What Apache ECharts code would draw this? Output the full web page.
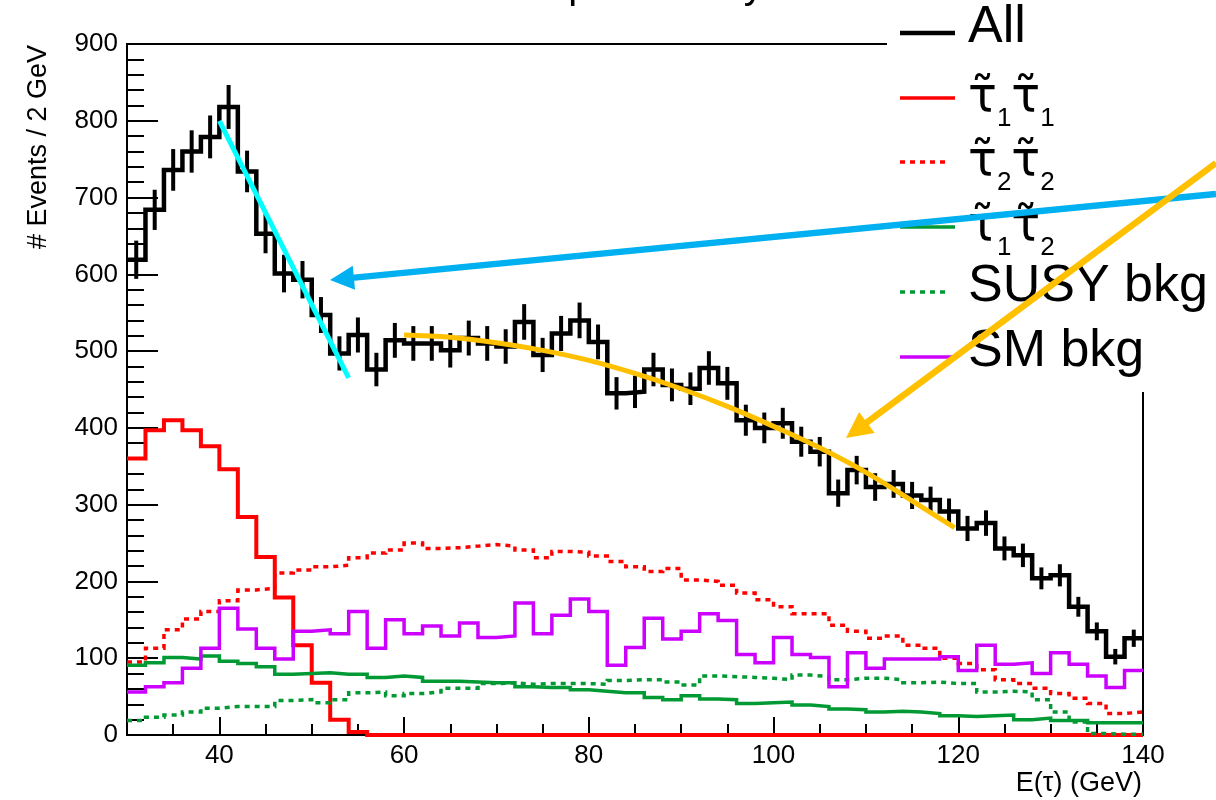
<!DOCTYPE html>
<html>
<head>
<meta charset="utf-8">
<title>E(tau) spectrum</title>
<script src="https://cdn.jsdelivr.net/npm/echarts@6/dist/echarts.min.js"></script>
<style>
  html, body { margin: 0; padding: 0; background: #fff; }
  #chart { width: 1216px; height: 800px; }
</style>
</head>
<body>
<div id="chart"></div>
<script>
// histogram binning: 2 GeV bins from 30 to 140 GeV
const binStart = 30;
const binWidth = 2;
const xTicks = [40, 60, 80, 100, 120, 140];

// events per bin (55 bins)
const allEvents = [619, 684, 736, 760, 779, 818, 734, 653, 601, 593,
  547, 497, 521, 476, 514, 510, 510, 501, 517, 510,
  506, 538, 495, 523, 540, 512, 445, 447, 476, 456,
  451, 478, 458, 410, 400, 406, 382, 369, 315, 345,
  323, 327, 312, 306, 291, 269, 276, 243, 234, 204,
  208, 167, 135, 102, 126];
const stau11 = [360, 397, 410, 397, 376, 346, 284, 232, 179, 117,
  68, 20, 4, 0, 0, 0, 0, 0, 0, 0,
  0, 0, 0, 0, 0, 0, 0, 0, 0, 0,
  0, 0, 0, 0, 0, 0, 0, 0, 0, 0,
  0, 0, 0, 0, 0, 0, 0, 0, 0, 0,
  0, 0, 0, 0, 0];
const stau22 = [95, 113, 137, 151, 161, 175, 189, 191, 211, 215,
  219, 221, 231, 237, 241, 250, 243, 244, 246, 248,
  246, 241, 231, 239, 238, 233, 226, 219, 213, 217,
  202, 200, 195, 185, 176, 167, 158, 158, 143, 135,
  126, 129, 117, 113, 100, 93, 85, 72, 67, 61,
  54, 48, 41, 28, 30];
const stau12 = [91, 94, 101, 99, 103, 96, 93, 89, 79, 80,
  81, 79, 79, 75, 77, 75, 70, 70, 69, 68,
  68, 63, 62, 62, 59, 57, 55, 55, 49, 46,
  51, 47, 46, 41, 42, 43, 39, 37, 34, 33,
  30, 31, 30, 28, 25, 24, 25, 26, 20, 22,
  19, 19, 16, 16, 16];
const susyBkg = [19, 23, 26, 30, 35, 37, 37, 37, 45, 46,
  42, 46, 55, 56, 51, 54, 56, 61, 61, 67,
  68, 66, 67, 67, 67, 66, 71, 72, 72, 69,
  65, 77, 76, 75, 74, 72, 78, 76, 72, 74,
  74, 72, 68, 69, 67, 67, 56, 57, 56, 46,
  30, 17, 2, 1, 1];
const smBkg = [56, 63, 68, 87, 113, 165, 138, 113, 99, 135,
  137, 132, 161, 113, 150, 132, 142, 129, 146, 127,
  129, 172, 132, 156, 177, 161, 91, 114, 152, 125,
  135, 158, 149, 105, 94, 127, 105, 101, 63, 107,
  87, 99, 99, 99, 102, 84, 117, 92, 94, 80,
  107, 92, 77, 62, 84];

// hand drawn fit lines [E, events]
const fitCyan = [[40, 800], [54, 465]];
const fitYellow = [[60, 521], [65, 518], [70, 511], [75, 501], [80, 488], [85, 471],
  [90, 451], [95, 428], [100, 402], [105, 374], [110, 342], [115, 305], [119.6, 270]];

const FONT = 'Liberation Sans, Arial, Helvetica, sans-serif';
const TAU_FONT = 'DejaVu Sans, sans-serif';
const RED = '#ff0000', GREEN = '#009933', VIOLET = '#cc00ff';

const chart = echarts.init(document.getElementById('chart'));

// bin edges -> step points
function stepData(values) {
  const pts = values.map((v, i) => [binStart + i * binWidth, v]);
  pts.push([binStart + values.length * binWidth, values[values.length - 1]]);
  return pts;
}

function histSeries(name, values, color, width, dash) {
  return {
    name: name,
    type: 'line',
    step: 'end',
    data: stepData(values),
    symbol: 'none',
    silent: true,
    animation: false,
    lineStyle: { color: color, width: width, type: dash ? [5, 5] : 'solid', join: 'miter', cap: 'butt' }
  };
}

function arrow(x1, y1, x2, y2, color, width, headLen, headHalf) {
  const dx = x2 - x1, dy = y2 - y1;
  const len = Math.sqrt(dx * dx + dy * dy);
  const ux = dx / len, uy = dy / len;
  const bx = x2 - ux * headLen, by = y2 - uy * headLen;
  return [
    { type: 'line', z: 30, shape: { x1: x1, y1: y1, x2: bx + ux * 2, y2: by + uy * 2 },
      style: { stroke: color, lineWidth: width } },
    { type: 'polygon', z: 30,
      shape: { points: [[x2, y2], [bx - uy * headHalf, by + ux * headHalf], [bx + uy * headHalf, by - ux * headHalf]] },
      style: { fill: color } }
  ];
}

// legend drawn by hand (ROOT style box, no border)
const legendRows = [
  { y: 33, color: '#000', width: 4.5, dash: false, label: 'All' },
  { y: 98, color: RED, width: 3.5, dash: false, label: '{t|τ̃}{s|1}{t|τ̃}{s|1}' },
  { y: 162, color: RED, width: 3.5, dash: true, label: '{t|τ̃}{s|2}{t|τ̃}{s|2}' },
  { y: 227, color: GREEN, width: 3.5, dash: false, label: '{t|τ̃}{s|1}{t|τ̃}{s|2}' },
  { y: 292, color: GREEN, width: 3.5, dash: true, label: 'SUSY bkg' },
  { y: 357, color: VIOLET, width: 3.5, dash: false, label: 'SM bkg' }
];
const legendGraphics = [
  { type: 'rect', z: 10, shape: { x: 887, y: 0, width: 329, height: 392 }, style: { fill: '#fff' } }
];
legendRows.forEach(function (r) {
  legendGraphics.push({
    type: 'line', z: 11,
    shape: { x1: 900, y1: r.y, x2: r.dash ? 950 : 955, y2: r.y },
    style: { stroke: r.color, lineWidth: r.width, lineDash: r.dash ? [5, 5] : null }
  });
  const isTau = r.label.indexOf('{t|') === 0;
  legendGraphics.push({
    type: 'text', z: 11,
    x: 968, y: isTau ? r.y + 5 : r.y - 5,
    style: {
      text: r.label,
      fill: '#000',
      font: '52px ' + FONT,
      align: 'left',
      verticalAlign: 'middle',
      rich: {
        t: { fontSize: 48, fontFamily: TAU_FONT, verticalAlign: 'bottom', padding: [0, 0, 9, 0] },
        s: { fontSize: 26, fontFamily: FONT, verticalAlign: 'bottom' }
      }
    }
  });
});

const option = {
  backgroundColor: '#fff',
  animation: false,
  textStyle: { fontFamily: FONT },
  grid: { left: 127, right: 73, top: 44, bottom: 65, show: true, borderColor: '#000', borderWidth: 2 },
  xAxis: [
    {
      type: 'value', min: 30, max: 140, splitNumber: 5, position: 'bottom',
      axisLine: { lineStyle: { color: '#000', width: 2 } },
      axisTick: { inside: true, length: 18, lineStyle: { color: '#000', width: 2 } },
      axisLabel: {
        color: '#000', fontSize: 26, fontFamily: FONT, margin: 8,
        formatter: function (v) { return xTicks.indexOf(v) >= 0 ? String(v) : ''; }
      },
      splitLine: { show: false }
    },
    {
      type: 'value', min: 30, max: 140, interval: 5, position: 'bottom',
      axisLine: { show: false },
      axisTick: { inside: true, length: 11, lineStyle: { color: '#000', width: 2 } },
      axisLabel: { show: false },
      splitLine: { show: false }
    }
  ],
  yAxis: {
    type: 'value', min: 0, max: 900, interval: 100,
    axisLine: { show: true, lineStyle: { color: '#000', width: 2 } },
    axisTick: { show: true, inside: true, length: 31, lineStyle: { color: '#000', width: 2 } },
    minorTick: { show: true, splitNumber: 5, length: 17, lineStyle: { color: '#000', width: 2 } },
    axisLabel: { color: '#000', fontSize: 26, fontFamily: FONT, margin: 9 },
    splitLine: { show: false }
  },
  series: [
    histSeries('All', allEvents, '#000', 4.5, false),
    {
      name: 'All errors',
      type: 'custom',
      silent: true,
      animation: false,
      z: 3,
      data: allEvents.map(function (v, i) { return [binStart + (i + 0.5) * binWidth, v]; }),
      renderItem: function (params, api) {
        const x = api.value(0), v = api.value(1), e = Math.sqrt(v);
        const p1 = api.coord([x, v - e]);
        const p2 = api.coord([x, v + e]);
        return {
          type: 'line',
          shape: { x1: p1[0], y1: p1[1], x2: p2[0], y2: p2[1] },
          style: { stroke: '#000', lineWidth: 4 }
        };
      }
    },
    histSeries('stau1stau1', stau11, RED, 4, false),
    histSeries('stau2stau2', stau22, RED, 3.5, true),
    histSeries('stau1stau2', stau12, GREEN, 3.5, false),
    histSeries('SUSY bkg', susyBkg, GREEN, 3.5, true),
    histSeries('SM bkg', smBkg, VIOLET, 3.5, false),
    {
      name: 'fit1', type: 'line', data: fitCyan, symbol: 'none', silent: true, z: 5,
      lineStyle: { color: '#00ffff', width: 5 }
    },
    {
      name: 'fit2', type: 'line', data: fitYellow, symbol: 'none', smooth: 0.4, silent: true, z: 5,
      lineStyle: { color: '#ffc000', width: 5 }
    }
  ],
  graphic: [
    // cut off title at the very top
    { type: 'text', z: 1, x: 666, y: 7,
      style: { text: 'preliminary', font: '40px ' + FONT, fill: '#000', align: 'center', verticalAlign: 'bottom' } },
    // axis titles
    { type: 'text', z: 5, x: 1142, y: 784,
      style: { text: 'E(τ) (GeV)', font: '27px ' + FONT, fill: '#000', align: 'right', verticalAlign: 'middle' } },
    { type: 'text', z: 5, x: 39, y: 45, rotation: Math.PI / 2,
      style: { text: '# Events / 2 GeV', font: '27px ' + FONT, fill: '#000', align: 'right', verticalAlign: 'middle' } }
  ].concat(legendGraphics)
   .concat(arrow(1216, 194, 330, 280, '#00b0f0', 6.5, 24, 12))
   .concat(arrow(1216, 163, 846, 438, '#ffc000', 6.5, 26, 13))
};

chart.setOption(option);
</script>
</body>
</html>
